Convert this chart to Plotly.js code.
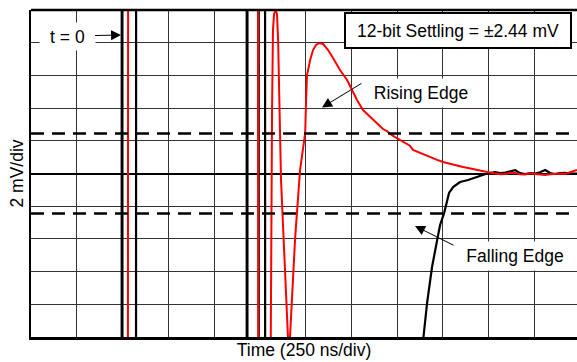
<!DOCTYPE html>
<html>
<head>
<meta charset="utf-8">
<script src="https://cdn.plot.ly/plotly-3.0.1.min.js"></script>
<style>html,body{margin:0;padding:0;background:#fff;overflow:hidden}</style>
</head>
<body>
<div id="chart" style="width:577px;height:362px"></div>
<script>
// Time in ns (250 ns per division), amplitude in mV (2 mV per division)
const redTime = [-500, 27, 33, 738, 743, 809, 817, 822, 828, 836, 844, 850, 866, 883, 899, 907, 915, 943, 970, 998, 1003, 1008, 1025, 1041, 1057, 1074, 1096, 1123, 1150, 1188, 1227, 1254, 1281, 1314, 1352, 1391, 1423, 1445, 1462, 1489, 1516, 1549, 1570, 1587, 1626, 1655, 1680, 1719, 1751, 1790, 1828, 1860, 1888, 1937, 1992, 2036, 2063, 2090, 2118, 2145, 2172, 2199, 2227, 2254, 2281, 2309, 2336, 2363, 2390, 2418, 2456, 2483];
const redMv = [-60, -60, 60, 60, -60, -12.0, 3.9, 8.8, 9.76, 9.97, 9.76, 8.16, -0.4, -5.3, -10.0, -10.8, -10.0, -3.95, 0.21, 2.48, 4.5, 6.02, 6.94, 7.55, 7.86, 7.98, 7.92, 7.55, 7.06, 6.33, 5.72, 5.1, 4.5, 3.88, 3.46, 3.09, 2.72, 2.6, 2.42, 2.23, 2.05, 1.8, 1.7, 1.44, 1.25, 1.15, 1.01, 0.83, 0.7, 0.58, 0.46, 0.4, 0.34, 0.21, 0.09, 0.0, -0.05, -0.03, 0.04, 0.03, -0.04, -0.06, 0.02, -0.03, -0.08, -0.09, -0.05, -0.03, 0.0, -0.03, 0.09, 0.21];

const blackTime = [-500, -5, -4, -1, 0, 73, 75, 678, 679, 682, 683, 778, 780, 1631, 1664, 1691, 1719, 1735, 1757, 1773, 1784, 1806, 1844, 1888, 1937, 1992, 2036, 2063, 2090, 2118, 2145, 2172, 2199, 2227, 2254, 2281, 2309, 2336, 2363, 2390, 2418, 2456, 2483];
const blackMv = [-60, -60, 60, 60, -60, -60, 60, 60, -60, -60, 60, 60, -60, -11.4, -7.92, -5.72, -4.07, -3.15, -2.42, -1.62, -1.19, -0.83, -0.52, -0.4, -0.21, 0.0, 0.09, 0.03, 0.06, 0.15, 0.21, 0.02, -0.03, 0.03, 0.0, 0.08, 0.21, 0.03, -0.03, 0.02, 0.04, 0.0, 0.0];

const settleMv = [2.44, -2.44];
const xRange = [-500, 2483];
const yRange = [-10, 10];

const xTitle = 'Time (250 ns/div)';
const yTitle = '2 mV/div';
const boxLabel = '12-bit Settling = ±2.44 mV';
const t0Label = 't = 0';
const risingLabel = 'Rising Edge';
const fallingLabel = 'Falling Edge';
const t0Point = [-8, 8.47];
const risingPoint = [1090, 4.04];
const fallingPoint = [1598, -3.21];

const FONT = 'Liberation Sans, Arial, Helvetica, sans-serif';

const traces = [
  {x: blackTime, y: blackMv, type: 'scatter', mode: 'lines',
   line: {color: '#000000', width: 2.2}, hoverinfo: 'skip'},
  {x: redTime, y: redMv, type: 'scatter', mode: 'lines',
   line: {color: '#ff0000', width: 2}, hoverinfo: 'skip'}
];

const shapes = settleMv.map(v => ({
  type: 'line', xref: 'paper', x0: 0, x1: 1, yref: 'y', y0: v, y1: v,
  line: {color: '#000', width: 2.5, dash: '13px,8px'}
}));
shapes.push({type: 'line', xref: 'paper', yref: 'paper', x0: 0, x1: 1, y0: 1, y1: 1,
  line: {color: '#000', width: 2.5}});

const annotations = [
  {text: boxLabel, xref: 'paper', yref: 'paper', x: (458 - 31) / 546, y: (337 - 30.5) / 327,
   showarrow: false, xanchor: 'center', yanchor: 'middle', bgcolor: '#fff',
   bordercolor: '#000', borderwidth: 2, borderpad: 1, width: 222, height: 31,
   font: {family: FONT, size: 17.5, color: '#000'}},
  {text: t0Label, x: t0Point[0], y: t0Point[1], ax: -54, ay: 1,
   showarrow: true, arrowhead: 2, arrowsize: 2, arrowwidth: 1, arrowcolor: '#000',
   bgcolor: '#fff', width: 55, height: 27, borderpad: 0,
   font: {family: FONT, size: 17.5, color: '#000'}},
  {text: risingLabel, xref: 'paper', yref: 'paper', x: (421 - 31) / 546, y: (337 - 93) / 327,
   xanchor: 'center', yanchor: 'middle',
   showarrow: false, bgcolor: '#fff', width: 108, height: 28, borderpad: 0,
   font: {family: FONT, size: 17.5, color: '#000'}},
  {text: '', x: risingPoint[0], y: risingPoint[1], ax: 41, ay: -25,
   showarrow: true, arrowhead: 2, arrowsize: 2, arrowwidth: 1, arrowcolor: '#000'},
  {text: fallingLabel, xref: 'paper', yref: 'paper', x: (514.5 - 31) / 546, y: (337 - 256) / 327,
   xanchor: 'center', yanchor: 'middle',
   showarrow: false, bgcolor: '#fff', width: 108, height: 28, borderpad: 0,
   font: {family: FONT, size: 17.5, color: '#000'}},
  {text: '', x: fallingPoint[0], y: fallingPoint[1], ax: 40, ay: 20,
   showarrow: true, arrowhead: 2, arrowsize: 2, arrowwidth: 1, arrowcolor: '#000'}
];

const layout = {
  width: 577, height: 362,
  margin: {l: 31, r: 0, t: 10, b: 25},
  paper_bgcolor: '#fff', plot_bgcolor: '#fff',
  showlegend: false,
  font: {family: FONT, size: 17.5, color: '#000'},
  xaxis: {range: xRange, dtick: 250, tick0: 0, showticklabels: false, ticks: '',
    showgrid: true, gridcolor: '#333', gridwidth: 1, zeroline: false,
    showline: true, linecolor: '#000', linewidth: 2.5, automargin: false,
    title: {text: xTitle, standoff: 5, font: {family: FONT, size: 17.5, color: '#000'}}},
  yaxis: {range: yRange, dtick: 2, tick0: 0, showticklabels: false, ticks: '',
    showgrid: true, gridcolor: '#333', gridwidth: 1,
    zeroline: true, zerolinecolor: '#000', zerolinewidth: 2,
    showline: true, linecolor: '#000', linewidth: 2.5, automargin: false,
    title: {text: yTitle, standoff: 1, font: {family: FONT, size: 17.5, color: '#000'}}},
  shapes: shapes,
  annotations: annotations
};

Plotly.newPlot('chart', traces, layout, {staticPlot: true, displayModeBar: false});
</script>
</body>
</html>
